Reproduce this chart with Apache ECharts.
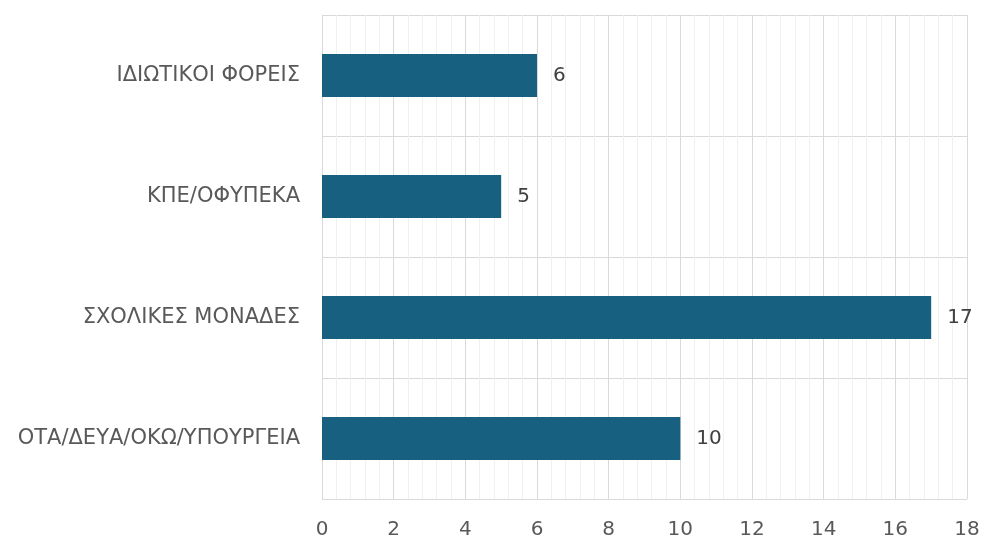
<!DOCTYPE html>
<html><head><meta charset="utf-8">
<script src="https://cdn.jsdelivr.net/npm/echarts@6/dist/echarts.min.js"></script>
<style>html,body{margin:0;padding:0;background:#fff}#c{width:984px;height:540px}</style>
</head><body><div id="c"></div>
<script>
const categories = ["ΟΤΑ/ΔΕΥΑ/ΟΚΩ/ΥΠΟΥΡΓΕΙΑ", "ΣΧΟΛΙΚΕΣ ΜΟΝΑΔΕΣ", "ΚΠΕ/ΟΦΥΠΕΚΑ", "ΙΔΙΩΤΙΚΟΙ ΦΟΡΕΙΣ"];
const values = [10, 17, 5, 6];
const xMin = 0, xMax = 18, xStep = 2;

const chart = echarts.init(document.getElementById('c'), null, {renderer: 'canvas'});
const font = '"DejaVu Sans", sans-serif';
chart.setOption({
  animation: false,
  grid: {left: 322, right: 17, top: 15, bottom: 40, containLabel: false},
  xAxis: {
    type: 'value', min: xMin, max: xMax, interval: xStep,
    axisLine: {show: false}, axisTick: {show: false},
    axisLabel: {color: '#595959', fontSize: 20, fontFamily: font, margin: 21},
    splitLine: {show: true, lineStyle: {color: '#d9d9d9', width: 1}},
    minorTick: {show: false, splitNumber: 5},
    minorSplitLine: {show: true, lineStyle: {color: '#f0f0f0', width: 1}}
  },
  yAxis: {
    type: 'category', data: categories,
    axisLine: {show: true, lineStyle: {color: '#d9d9d9', width: 1}},
    axisTick: {show: false},
    axisLabel: {color: '#595959', fontSize: 21, fontFamily: font, margin: 22, padding: [5, 0, 0, 0]},
    splitLine: {show: true, lineStyle: {color: '#d9d9d9', width: 1}}
  },
  series: [{
    type: 'bar', data: values, barWidth: '35.5%',
    itemStyle: {color: '#17607f'},
    label: {show: true, position: 'right', distance: 16, color: '#404040', fontSize: 20, fontFamily: font, padding: [3, 0, 0, 0]}
  }]
});
</script></body></html>
